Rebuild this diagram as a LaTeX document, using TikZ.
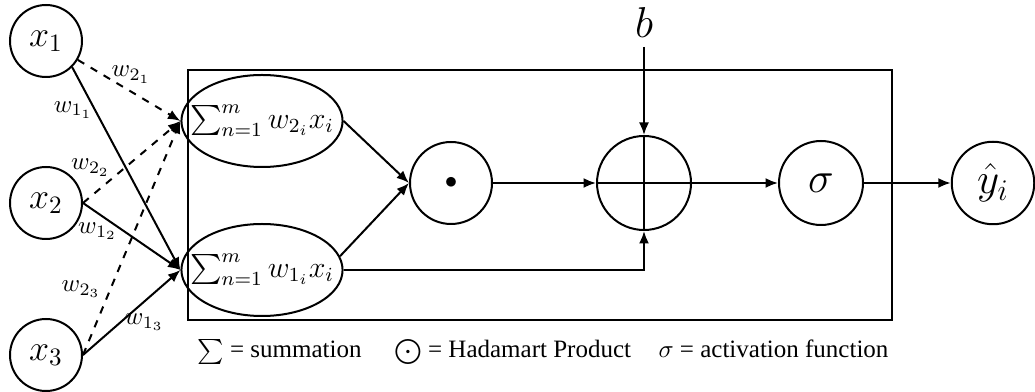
\documentclass[tikz,border=0pt]{standalone}
\usepackage[no-math]{fontspec}
\setmainfont{Liberation Serif}
\usepackage{amsmath}
\usetikzlibrary{positioning, shapes.geometric, arrows.meta}

\begin{document}
\begin{tikzpicture}[
  inp/.style={circle, draw, thick, minimum size=28.8pt, inner sep=0pt, font=\Large},
  sumnode/.style={ellipse, draw, thick, minimum width=58pt, minimum height=36.8pt,
                  inner xsep=-6pt, inner ysep=0pt, font=\large},
  op/.style={circle, draw, thick, inner sep=0pt},
  wlabel/.style={inner sep=0.5pt},
  line/.style={draw, ->, thick},
  >={Latex[length=5pt, width=4pt]},
  on grid
]
\useasboundingbox (0,0) rectangle (414pt,-156.8pt);
% Inputs
\node[inp] (x1) at (18.4pt,-16.4pt) {$x_1$};
\node[inp, below=64.8pt of x1] (x2) {$x_2$};
\node[inp, below=60.8pt of x2] (x3) {$x_3$};
% Neuron
\draw[thick] (75.2pt,-28pt) rectangle (356.8pt,-128pt);
\node[sumnode, below right=32pt and 86.4pt of x1] (s2) {$\sum_{n=1}^{m} w_{2_i}x_i$};
\node[sumnode, below=59.6pt of s2] (s1) {$\sum_{n=1}^{m} w_{1_i}x_i$};
\node[op, minimum size=32.8pt, below right=24.8pt and 75.6pt of s2] (had) {$\bullet$};
\node[op, minimum size=37.6pt, right=77.2pt of had] (plus) {};
\node[op, minimum size=33.6pt, right=70.8pt of plus, font=\LARGE] (act) {$\sigma$};
\node[op, minimum size=33pt, right=68.8pt of act, font=\LARGE] (out) {$\hat{y}_i$};
\node[font=\LARGE, above=64pt of plus] (bias) {$b$};
\draw[thick] (plus.north) -- (plus.south) (plus.west) -- (plus.east);
% Legend
\node[anchor=base west, inner sep=0pt] (legend) at (78.8pt,-143.2pt)
  {$\sum$ = summation\hspace{1.3em}$\bigodot$ = Hadamart Product\hspace{1.1em}$\sigma$ = activation function};
% Edges
\path[line, dashed] (x1) -- node[wlabel, pos=0.52, above=2.5pt] {$w_{2_1}$} (s2.west);
\path[line] (x1.south east) -- node[wlabel, pos=0.21, left] {$w_{1_1}$} (s1.west);
\path[line, dashed] (x2.east) -- node[wlabel, pos=0.3, above left] {$w_{2_2}$} (s2.west);
\path[line] (x2.east) -- node[wlabel, pos=0.15, below=3pt] {$w_{1_2}$} (s1.west);
\path[line, dashed] (x3.east) -- node[wlabel, pos=0.28, left=3pt] {$w_{2_3}$} (s2.west);
\path[line] (x3.east) -- node[wlabel, pos=0.63, below=4pt] {$w_{1_3}$} (s1.west);
\path[line] (s2.east) -- (had.west);
\path[line] (s1.10) -- (had.west);
\path[line] (s1.east) -| (plus.south);
\path[line] (had) -- (plus);
\path[line] (bias) -- (plus.north);
\path[line] (plus.east) -- (act);
\path[line] (act) -- (out);
\end{tikzpicture}
\end{document}
